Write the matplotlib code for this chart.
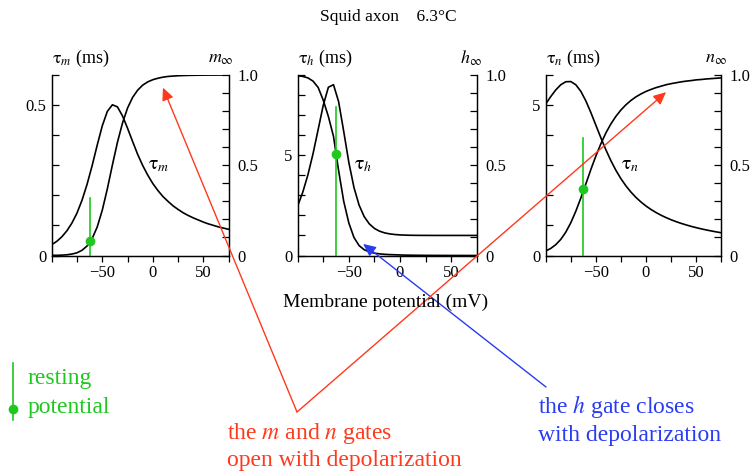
import matplotlib
matplotlib.use("Agg")
import matplotlib.pyplot as plt
from matplotlib.lines import Line2D

plt.rcParams['font.family'] = ['Liberation Serif', 'DejaVu Serif']
plt.rcParams['mathtext.fontset'] = 'stix'

# membrane potential (mV) and Hodgkin-Huxley curves
V = [-100, -95, -90, -85, -80, -75, -70, -65, -60, -55, -50, -45, -40, -35, -30, -25, -20, -15,
     -10, -5, 0, 5, 10, 15, 20, 25, 30, 35, 40, 45, 50, 55, 60, 65, 70, 75]

tau_m = [0.036, 0.047, 0.062, 0.082, 0.108, 0.141, 0.184, 0.237, 0.299, 0.367, 0.431, 0.479,
         0.501, 0.494, 0.464, 0.423, 0.379, 0.336, 0.299, 0.267, 0.239, 0.216, 0.196, 0.180,
         0.165, 0.153, 0.142, 0.133, 0.125, 0.118, 0.111, 0.105, 0.100, 0.095, 0.091, 0.087]
m_inf = [0.001, 0.001, 0.002, 0.004, 0.008, 0.015, 0.029, 0.053, 0.094, 0.158, 0.251, 0.369,
         0.501, 0.627, 0.734, 0.817, 0.876, 0.916, 0.944, 0.962, 0.974, 0.982, 0.988, 0.992,
         0.994, 0.996, 0.997, 0.998, 0.9985, 0.999, 0.9993, 0.9995, 0.9996, 0.9997, 0.9998, 0.9999]

tau_h = [2.473, 3.163, 4.026, 5.077, 6.282, 7.496, 8.390, 8.516, 7.670, 6.186, 4.640, 3.393,
         2.515, 1.939, 1.576, 1.350, 1.212, 1.128, 1.077, 1.046, 1.027, 1.016, 1.009, 1.005,
         1.003, 1.002, 1.001, 1.000, 1.000, 1.000, 1.000, 1.000, 1.000, 1.000, 1.000, 1.000]
h_inf = [0.996, 0.992, 0.984, 0.966, 0.931, 0.86, 0.77, 0.66, 0.47, 0.30, 0.18, 0.10,
         0.055, 0.032, 0.020, 0.013, 0.009, 0.0065, 0.005, 0.004, 0.003, 0.002, 0.0017, 0.0013,
         0.001, 0.0008, 0.0006, 0.0005, 0.0004, 0.0003, 0.0002, 0.0002, 0.0001, 0.0001, 0.0001, 0.0001]

tau_n = [5.034, 5.282, 5.502, 5.675, 5.776, 5.782, 5.677, 5.459, 5.141, 4.755, 4.334, 3.913,
         3.515, 3.152, 2.832, 2.554, 2.314, 2.108, 1.931, 1.778, 1.645, 1.530, 1.429, 1.339,
         1.260, 1.189, 1.126, 1.068, 1.017, 0.969, 0.926, 0.887, 0.850, 0.817, 0.785, 0.757]
n_inf = [0.025, 0.039, 0.060, 0.089, 0.129, 0.181, 0.245, 0.318, 0.396, 0.476, 0.551, 0.619,
         0.679, 0.729, 0.771, 0.806, 0.835, 0.859, 0.879, 0.895, 0.909, 0.920, 0.930, 0.938,
         0.946, 0.952, 0.957, 0.962, 0.966, 0.969, 0.973, 0.975, 0.978, 0.980, 0.982, 0.984]

# resting potential marker
rest_v = -62.5
rest_line_top = [0.32, 0.82, 0.65]
rest_dot = [0.08, 0.56, 0.37]

x_ticks = [-100, -75, -50, -25, 0, 25, 50, 75]
x_labels = ['', '', '\u221250', '', '0', '', '50', '']
gate_ticks = [0, 0.1, 0.2, 0.3, 0.4, 0.5, 0.6, 0.7, 0.8, 0.9, 1.0]
gate_labels = ['0', '', '', '', '', '0.5', '', '', '', '', '1.0']

tau_ticks = [[0, 0.1, 0.2, 0.3, 0.4, 0.5, 0.6],
             [0, 1, 2, 3, 4, 5, 6, 7, 8, 9],
             [0, 1, 2, 3, 4, 5, 6]]
tau_labels = [['0', '', '', '', '', '0.5', ''],
              ['0', '', '', '', '', '5', '', '', '', ''],
              ['0', '', '', '', '', '5', '']]
tau_max = [0.6, 9, 6]

gates = ['m', 'h', 'n']
taus = [tau_m, tau_h, tau_n]
infs = [m_inf, h_inf, n_inf]
tau_label_pos = [(6, 0.30), (-36, 4.5), (-16, 3.0)]

W, H = 751, 475
lefts = [51.7, 297.7, 545.7]
widths = [177, 179, 175.5]
bottom_px = 255.5
height_px = 180.5

GREEN = '#1ec81e'
RED = '#ff3a1c'
BLUE = '#2a3cf2'

fig = plt.figure(figsize=(W / 100, H / 100), dpi=100)

gate_axes = []
for i in range(3):
    ax = fig.add_axes([lefts[i] / W, (H - bottom_px) / H, widths[i] / W, height_px / H])
    ax2 = ax.twinx()
    gate_axes.append(ax2)

    ax.plot(V, taus[i], color='black', lw=1.2)
    ax2.plot(V, infs[i], color='black', lw=1.2)

    ax2.plot([rest_v, rest_v], [0, rest_line_top[i]], color=GREEN, lw=1.2)
    ax2.plot([rest_v], [rest_dot[i]], 'o', color=GREEN, ms=7, mec='none')

    ax.set_xlim(-100, 75)
    ax.set_ylim(0, tau_max[i])
    ax2.set_ylim(0, 1)
    ax.set_xticks(x_ticks, x_labels)
    ax.set_yticks(tau_ticks[i], tau_labels[i])
    ax2.set_yticks(gate_ticks, gate_labels)

    for a in (ax, ax2):
        a.spines['top'].set_visible(False)
        for s in a.spines.values():
            s.set_linewidth(0.9)
    ax.tick_params(axis='x', direction='out', length=4, width=0.9, labelsize=12, pad=3)
    ax.tick_params(axis='y', direction='in', length=5, width=0.9, labelsize=12, pad=4)
    ax2.tick_params(axis='y', direction='in', length=5, width=0.9, labelsize=12, pad=6)

    g = gates[i]
    ax.text(0.0, 1.094, r'$\mathrm{\tau}_{%s}$ (ms)' % g, transform=ax.transAxes,
            ha='left', va='center', fontsize=13)
    ax.text(1.03, 1.094, r'$%s_{\infty}$' % g, transform=ax.transAxes,
            ha='right', va='center', fontsize=13)
    ax.text(tau_label_pos[i][0], tau_label_pos[i][1], r'$\mathrm{\tau}_{%s}$' % g,
            ha='center', va='center', fontsize=14)

fig.text(388 / W, 1 - 17 / H, 'Squid axon    6.3\u00b0C', ha='center', va='center', fontsize=12.5)
fig.text(386 / W, 1 - 302 / H, 'Membrane potential (mV)', ha='center', va='center', fontsize=14)

# resting potential key
fig.add_artist(Line2D([13 / W, 13 / W], [1 - 363 / H, 1 - 420 / H], color=GREEN, lw=1.2,
                      transform=fig.transFigure))
fig.add_artist(Line2D([13 / W], [1 - 409 / H], marker='o', ms=7, color=GREEN, mec='none',
                      transform=fig.transFigure))
fig.text(28 / W, 1 - 384 / H, 'resting', color=GREEN, fontsize=17, va='baseline')
fig.text(28 / W, 1 - 413 / H, 'potential', color=GREEN, fontsize=17, va='baseline')

fig.text(227 / W, 1 - 438.5 / H, 'the $m$ and $n$ gates', color=RED, fontsize=17, va='baseline')
fig.text(227 / W, 1 - 466 / H, 'open with depolarization', color=RED, fontsize=17, va='baseline')
fig.text(538 / W, 1 - 413 / H, 'the $h$ gate closes', color=BLUE, fontsize=17, va='baseline')
fig.text(538 / W, 1 - 441.5 / H, 'with depolarization', color=BLUE, fontsize=17, va='baseline')

# arrows from the captions to the curves
head = '-|>,head_length=0.75,head_width=0.35'
vertex = (297, H - 412)
gate_axes[0].annotate('', xy=(10, 0.93), xycoords='data', xytext=vertex, textcoords='figure pixels',
                      arrowprops=dict(arrowstyle=head, color=RED, lw=1.0, mutation_scale=10,
                                      shrinkA=0, shrinkB=0), annotation_clip=False)
gate_axes[2].annotate('', xy=(20, 0.905), xycoords='data', xytext=vertex, textcoords='figure pixels',
                      arrowprops=dict(arrowstyle=head, color=RED, lw=1.0, mutation_scale=10,
                                      shrinkA=0, shrinkB=0), annotation_clip=False)
gate_axes[1].annotate('', xy=(-36, 0.064), xycoords='data', xytext=(546, H - 387),
                      textcoords='figure pixels',
                      arrowprops=dict(arrowstyle=head, color=BLUE, lw=1.0, mutation_scale=10,
                                      shrinkA=0, shrinkB=0), annotation_clip=False)

fig.savefig('out.png', dpi=100)
